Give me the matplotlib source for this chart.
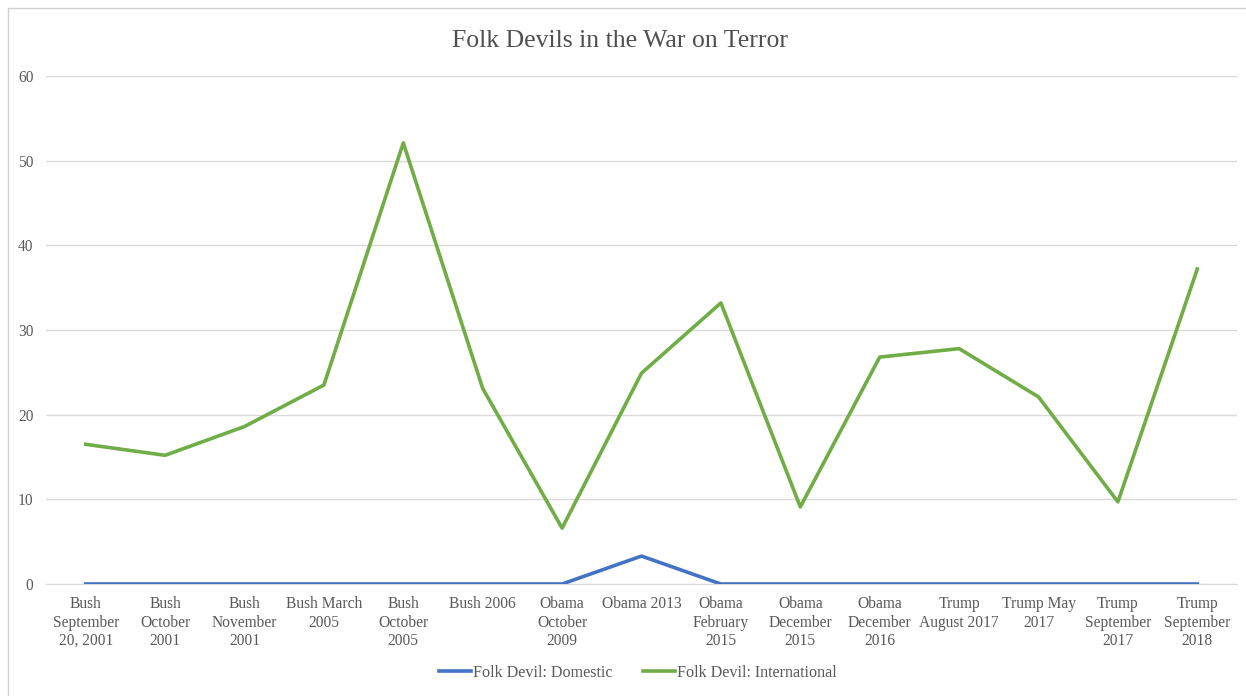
import matplotlib
matplotlib.use("Agg")
import matplotlib.pyplot as plt
from matplotlib.lines import Line2D

categories = [
    "Bush\nSeptember\n20, 2001", "Bush\nOctober\n2001", "Bush\nNovember\n2001",
    "Bush March\n2005", "Bush\nOctober\n2005", "Bush 2006", "Obama\nOctober\n2009",
    "Obama 2013", "Obama\nFebruary\n2015", "Obama\nDecember\n2015", "Obama\nDecember\n2016",
    "Trump\nAugust 2017", "Trump May\n2017", "Trump\nSeptember\n2017", "Trump\nSeptember\n2018",
]
domestic = [0, 0, 0, 0, 0, 0, 0, 3.3, 0, 0, 0, 0, 0, 0, 0]
international = [16.5, 15.2, 18.6, 23.5, 52.1, 23.1, 6.6, 24.9, 33.2, 9.1, 26.8, 27.8, 22.1, 9.7, 37.2]
yticks = [0, 10, 20, 30, 40, 50, 60]

plt.rcParams['font.family'] = ['Liberation Serif', 'DejaVu Serif']

W, H = 1246, 696
fig = plt.figure(figsize=(W / 100, H / 100), dpi=100)
ax = fig.add_axes([46 / W, 1 - 584 / H, (1237 - 46) / W, (584 - 76) / H])

x = list(range(len(categories)))
ax.plot(x, domestic, color="#4472C4", lw=2.6, label="Folk Devil: Domestic", zorder=3, solid_joinstyle="round")
ax.plot(x, international, color="#70AD47", lw=2.6, label="Folk Devil: International", zorder=3, solid_joinstyle="round")

ax.set_xlim(-0.5, len(categories) - 0.5)
ax.set_ylim(0, 60)
ax.set_yticks(yticks)
ax.set_xticks(x)
ax.set_xticklabels(categories, fontsize=11.2, color="#595959", linespacing=1.18)
ax.tick_params(axis="y", labelsize=11.2, labelcolor="#595959", length=0, pad=9)
ax.tick_params(axis="x", length=0, pad=9)
ax.grid(axis="y", color="#D9D9D9", lw=1)
for s in ["top", "right", "left"]:
    ax.spines[s].set_visible(False)
ax.spines["bottom"].set_color("#D9D9D9")
ax.set_axisbelow(True)

fig.text(0.4975, 1 - 41 / H, "Folk Devils in the War on Terror", ha="center", va="center",
         fontsize=18.5, color="#505050")

fig.legend(loc="center", bbox_to_anchor=(0.512, 1 - 673 / H), ncol=2, frameon=False,
           fontsize=11.6, labelcolor="#595959", handlelength=2.0, handletextpad=0.1,
           columnspacing=1.9)

fig.add_artist(Line2D([8 / W, 8 / W], [0, 1 - 8 / H], transform=fig.transFigure, color="#D0D0D0", lw=1))
fig.add_artist(Line2D([8 / W, 1], [1 - 8 / H, 1 - 8 / H], transform=fig.transFigure, color="#D0D0D0", lw=1))

fig.savefig("out.png", dpi=100)
